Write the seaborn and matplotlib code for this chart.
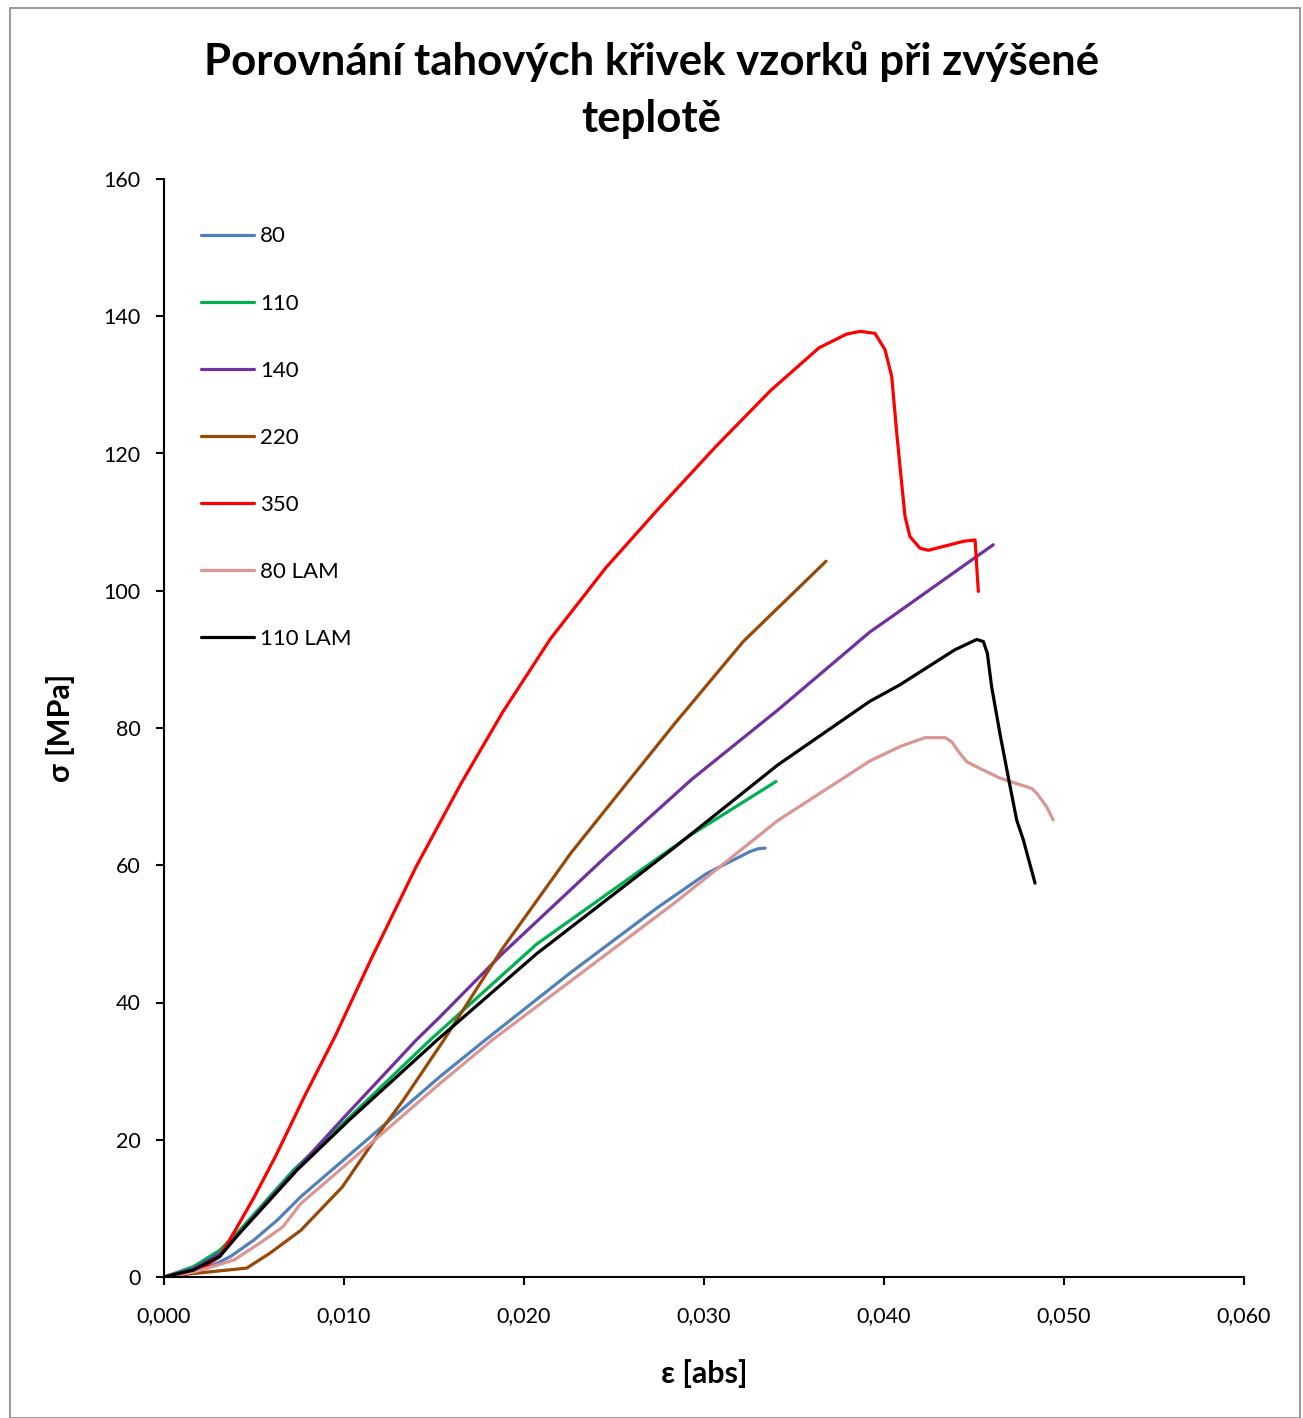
import seaborn as sns
import matplotlib.pyplot as plt
import pandas as pd
from matplotlib.patches import Rectangle
from matplotlib.ticker import FuncFormatter

# tahove krivky, hodnoty
eps_80 = [0.0, 0.0016, 0.00256, 0.0037, 0.0050, 0.0063, 0.0076, 0.0115, 0.01533, 0.01783, 0.02261, 0.0274,
          0.03015, 0.03256, 0.0330, 0.0334]
sig_80 = [0.0, 0.8, 1.5, 3.0, 5.4, 8.3, 11.7, 20.5, 29.2, 34.5, 44.4, 53.8,
          58.8, 62.0, 62.4, 62.5]

eps_110 = [0.0, 0.00163, 0.0031, 0.0042, 0.0057, 0.0072, 0.01015, 0.01477, 0.0207, 0.02644, 0.02931, 0.0340]
sig_110 = [0.0, 1.5, 3.9, 6.8, 11.2, 15.6, 22.9, 34.5, 48.5, 59.2, 64.5, 72.2]

eps_140 = [0.0, 0.00163, 0.0031, 0.0042, 0.0057, 0.0074, 0.00987, 0.0140, 0.01533, 0.01879, 0.02453, 0.02931,
           0.03409, 0.03922, 0.04015, 0.04515, 0.04607]
sig_140 = [0.0, 1.2, 3.4, 6.4, 10.9, 15.8, 22.9, 34.5, 37.9, 47.1, 61.2, 72.5,
           82.6, 94.0, 95.7, 105.0, 106.7]

eps_220 = [0.0, 0.0016, 0.0046, 0.0059, 0.0076, 0.0099, 0.0122, 0.0133, 0.01554, 0.01879, 0.02261, 0.02548,
           0.02836, 0.03218, 0.03678]
sig_220 = [0.0, 0.5, 1.3, 3.5, 6.8, 13.1, 21.9, 25.8, 34.5, 47.8, 61.8, 71.2,
           80.6, 92.6, 104.3]

eps_350 = [0.0, 0.0010, 0.0020, 0.0031, 0.0040, 0.0050, 0.0062, 0.0078, 0.00951, 0.01152, 0.01401, 0.0165,
           0.01879, 0.02147, 0.02453, 0.02759, 0.03065, 0.03371, 0.03639, 0.03792, 0.03869, 0.0395, 0.04006,
           0.04043, 0.04071, 0.04098, 0.04117, 0.04144, 0.0420, 0.04246, 0.04367, 0.0444, 0.04506, 0.04524]
sig_350 = [0.0, 0.3, 1.0, 3.0, 7.0, 11.6, 17.6, 26.3, 35.1, 46.4, 59.8, 71.9,
           82.2, 93.0, 103.3, 112.3, 121.0, 129.2, 135.4, 137.4, 137.8, 137.5, 135.1,
           131.2, 122.9, 115.7, 110.8, 107.9, 106.2, 105.9, 106.7, 107.2, 107.4, 99.9]

eps_80lam = [0.0, 0.0016, 0.00256, 0.0039, 0.0053, 0.0066, 0.0076, 0.0115, 0.01533, 0.01822, 0.02836, 0.03409,
             0.03922, 0.04089, 0.04228, 0.04339, 0.04376, 0.04413, 0.04459, 0.04533, 0.04589, 0.04644, 0.0470,
             0.0482, 0.04848, 0.04904, 0.0494]
sig_80lam = [0.0, 0.7, 1.4, 2.5, 4.9, 7.3, 10.7, 19.5, 28.2, 34.5, 54.5, 66.5,
             75.2, 77.3, 78.6, 78.6, 78.0, 76.6, 75.1, 74.1, 73.4, 72.7, 72.2,
             71.2, 70.5, 68.5, 66.6]

eps_110lam = [0.0, 0.00163, 0.0031, 0.0042, 0.0057, 0.0074, 0.0103, 0.01516, 0.0207, 0.02836, 0.03409, 0.03922,
              0.04089, 0.04274, 0.04394, 0.04515, 0.04552, 0.04574, 0.04598, 0.04644, 0.0469, 0.04737, 0.04774,
              0.04839]
sig_110lam = [0.0, 1.0, 3.0, 6.4, 10.7, 15.6, 22.9, 34.5, 47.1, 62.6, 74.6, 83.9,
              86.3, 89.4, 91.4, 92.9, 92.6, 90.9, 86.0, 79.2, 72.9, 66.6, 63.7,
              57.4]

series = ['80', '110', '140', '220', '350', '80 LAM', '110 LAM']
colors = ['#4F81BD', '#00B050', '#7030A0', '#984807', '#FF0000', '#D99694', '#000000']
xs = [eps_80, eps_110, eps_140, eps_220, eps_350, eps_80lam, eps_110lam]
ys = [sig_80, sig_110, sig_140, sig_220, sig_350, sig_80lam, sig_110lam]

df = pd.concat([pd.DataFrame({'eps': x, 'sig': y, 'vzorek': s}) for s, x, y in zip(series, xs, ys)],
               ignore_index=True)

sns.set_style('white')
plt.rcParams['font.family'] = ['Lato', 'DejaVu Sans']
plt.rcParams['text.color'] = 'black'
plt.rcParams['axes.labelcolor'] = 'black'
plt.rcParams['xtick.color'] = 'black'
plt.rcParams['ytick.color'] = 'black'

fig = plt.figure(figsize=(13.03, 14.18), dpi=100)
ax = fig.add_axes([164 / 1303, 1 - 1277 / 1418, 1080 / 1303, 1098 / 1418])

sns.lineplot(data=df, x='eps', y='sig', hue='vzorek', hue_order=series,
             palette=dict(zip(series, colors)), sort=False, estimator=None,
             linewidth=2.3, ax=ax)

ax.set_xlim(0, 0.060)
ax.set_ylim(0, 160)
ax.set_xticks([i * 0.01 for i in range(7)])
ax.set_yticks(range(0, 161, 20))
ax.xaxis.set_major_formatter(FuncFormatter(lambda v, p: f'{v:.3f}'.replace('.', ',')))
ax.tick_params(axis='both', direction='out', length=6, width=1.5, labelsize=15.5,
               bottom=True, left=True)
ax.tick_params(axis='x', pad=15)
ax.tick_params(axis='y', pad=11)
for side in ['top', 'right']:
    ax.spines[side].set_visible(False)
for side in ['left', 'bottom']:
    ax.spines[side].set_linewidth(1.5)
    ax.spines[side].set_color('black')

ax.set_xlabel('ε [abs]', fontsize=22, fontweight='bold', labelpad=24)
ax.set_ylabel('σ [MPa]', fontsize=22, fontweight='bold', labelpad=20)

ax.legend(loc='upper left', bbox_to_anchor=(0.016, 0.975), frameon=False,
          fontsize=16, handlelength=2.35, handletextpad=0.28, labelspacing=2.12)

fig.suptitle('Porovnání tahových křivek vzorků při zvýšené\nteplotě',
             fontsize=31.5, fontweight='bold', y=0.971, linespacing=1.52)

fig.patches.append(Rectangle((10 / 1303, 0), 1290 / 1303, 1 - 8 / 1418, transform=fig.transFigure,
                             fill=False, edgecolor='#888888', linewidth=1.2))

fig.savefig('out.png', dpi=100)
